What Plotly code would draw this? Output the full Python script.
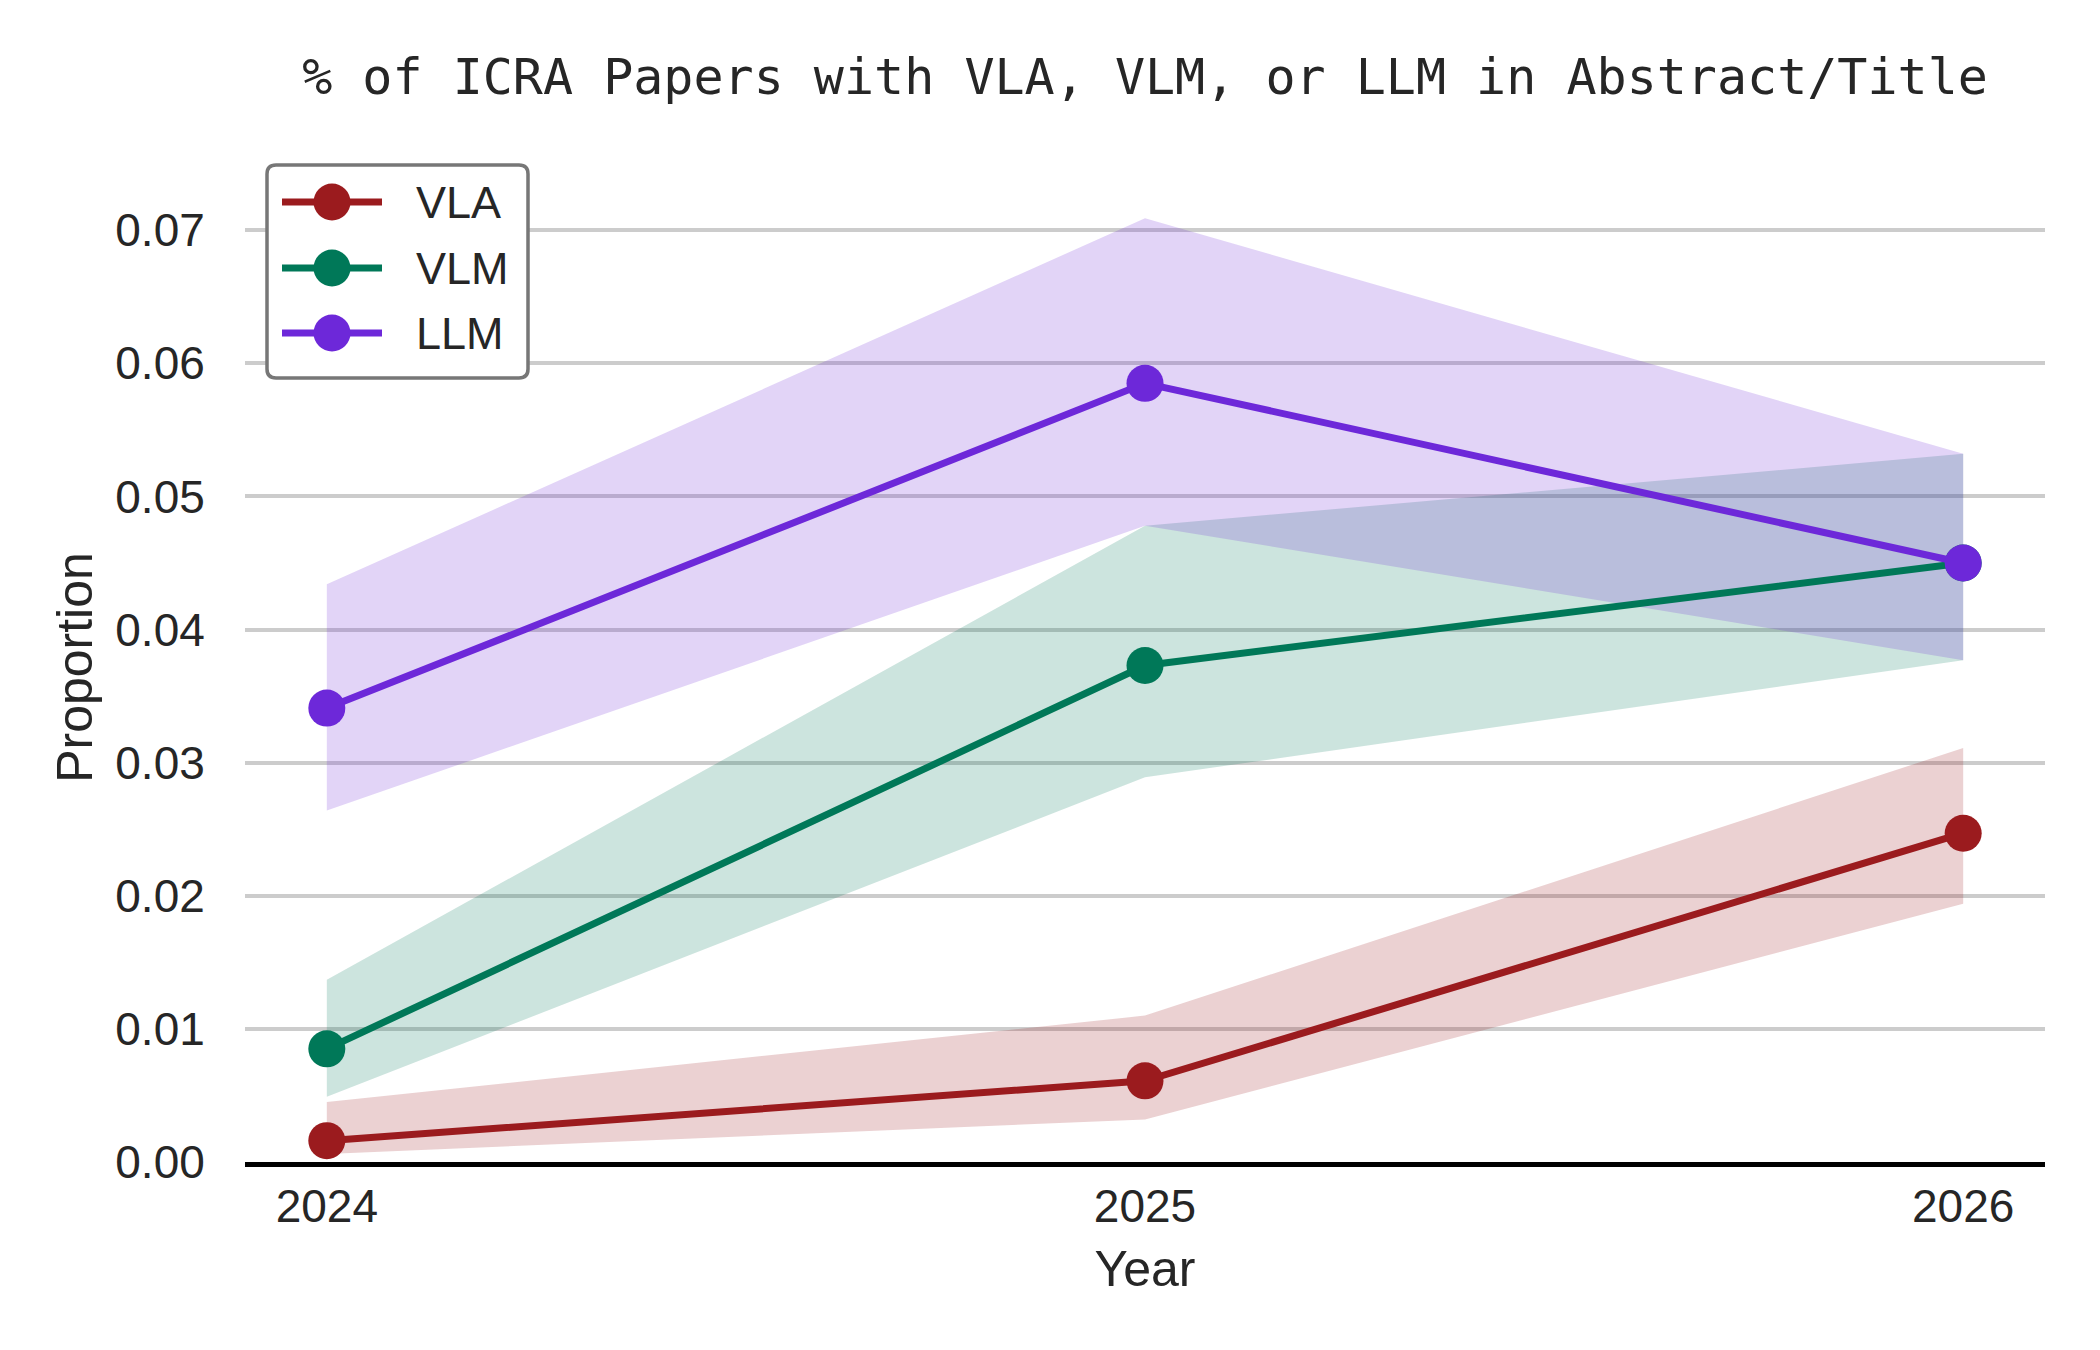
import plotly.graph_objects as go

years = [2024, 2025, 2026]
series_names = ["VLA", "VLM", "LLM"]
vla = [0.0016, 0.0061, 0.0247]
vla_low = [0.0006, 0.0032, 0.0194]
vla_high = [0.0045, 0.0110, 0.0311]
vlm = [0.0085, 0.0373, 0.0450]
vlm_low = [0.0049, 0.0289, 0.0377]
vlm_high = [0.0137, 0.0478, 0.0532]
llm = [0.0341, 0.0585, 0.0450]
llm_low = [0.0264, 0.0478, 0.0377]
llm_high = [0.0434, 0.0709, 0.0532]
y_ticks = [0.00, 0.01, 0.02, 0.03, 0.04, 0.05, 0.06, 0.07]

colors = ["#9b1b1e", "#007858", "#6d28d9"]
fills = ["rgba(155,27,30,0.2)", "rgba(0,120,88,0.2)", "rgba(109,40,217,0.2)"]

data = [(vla, vla_low, vla_high), (vlm, vlm_low, vlm_high), (llm, llm_low, llm_high)]

W, H = 2100, 1350
L, R, T, B = 245, 55, 173, 188
PW, PH = W - L - R, H - T - B


def px(x):
    return (x - L) / PW


def py(y):
    return (H - B - y) / PH


fig = go.Figure()
for (vals, lo, hi), fc in zip(data, fills):
    fig.add_trace(go.Scatter(
        x=years + years[::-1], y=hi + lo[::-1], fill="toself", fillcolor=fc,
        line=dict(width=0, color="rgba(0,0,0,0)"), mode="lines",
        showlegend=False, hoverinfo="skip"))

for name, (vals, lo, hi), c in zip(series_names, data, colors):
    fig.add_trace(go.Scatter(
        x=years, y=vals, name=name, mode="lines+markers",
        line=dict(color=c, width=7), marker=dict(color=c, size=37),
        showlegend=False))

font_main = "Liberation Sans, Arial, sans-serif"
txt = "#262626"

# custom legend (matplotlib-style)
bx0, by0, bx1, by1, rad = 267, 165, 528, 378, 9
rx, ry = rad / PW, rad / PH
X0, X1, Y0, Y1 = px(bx0), px(bx1), py(by1), py(by0)
path = (f"M {X0+rx},{Y0} L {X1-rx},{Y0} Q {X1},{Y0} {X1},{Y0+ry} "
        f"L {X1},{Y1-ry} Q {X1},{Y1} {X1-rx},{Y1} L {X0+rx},{Y1} "
        f"Q {X0},{Y1} {X0},{Y1-ry} L {X0},{Y0+ry} Q {X0},{Y0} {X0+rx},{Y0} Z")
shapes = [dict(type="path", xref="paper", yref="paper", path=path,
               fillcolor="white", line=dict(color="#777777", width=3.5), layer="above")]
annotations = []
row_y = [202, 268, 333]
for name, c, ry_px in zip(series_names, colors, row_y):
    shapes.append(dict(type="line", xref="paper", yref="paper",
                       x0=px(282), x1=px(382), y0=py(ry_px), y1=py(ry_px),
                       line=dict(color=c, width=7), layer="above"))
    r = 18.5
    shapes.append(dict(type="circle", xref="paper", yref="paper",
                       x0=px(332 - r), x1=px(332 + r), y0=py(ry_px + r), y1=py(ry_px - r),
                       fillcolor=c, line=dict(color=c, width=0), layer="above"))
    annotations.append(dict(text=name, xref="paper", yref="paper", x=px(414), y=py(ry_px),
                            xanchor="left", yanchor="middle", showarrow=False,
                            font=dict(size=45, family=font_main, color=txt)))

fig.update_layout(
    width=W, height=H,
    margin=dict(l=L, r=R, t=T, b=B),
    paper_bgcolor="white", plot_bgcolor="white",
    font=dict(family=font_main, color=txt, size=45),
    title=dict(text="% of ICRA Papers with VLA, VLM, or LLM in Abstract/Title",
               font=dict(family="DejaVu Sans Mono, monospace", size=50, color=txt),
               x=0.5, xref="paper", xanchor="center", y=1 - 76 / H, yanchor="middle"),
    shapes=shapes, annotations=annotations,
    showlegend=False,
)
fig.update_xaxes(
    range=[2023.9, 2026.1], tickmode="array", tickvals=years,
    ticktext=[str(y) for y in years], showgrid=False, zeroline=False,
    showline=True, linecolor="black", linewidth=5,
    ticks="",
    tickfont=dict(size=46, family=font_main, color=txt),
    title=dict(text="Year", font=dict(size=50, family=font_main, color=txt), standoff=21),
)
fig.update_yaxes(
    range=[0, 0.0743], tickmode="array", tickvals=y_ticks,
    ticktext=[f"{v:.2f}" for v in y_ticks],
    showgrid=True, gridcolor="#cccccc", gridwidth=3.5, zeroline=False,
    showline=False, ticks="outside", ticklen=30, tickcolor="rgba(0,0,0,0)",
    tickfont=dict(size=46, family=font_main, color=txt),
    title=dict(text="Proportion", font=dict(size=50, family=font_main, color=txt), standoff=6),
)

fig.write_html("out.html")
